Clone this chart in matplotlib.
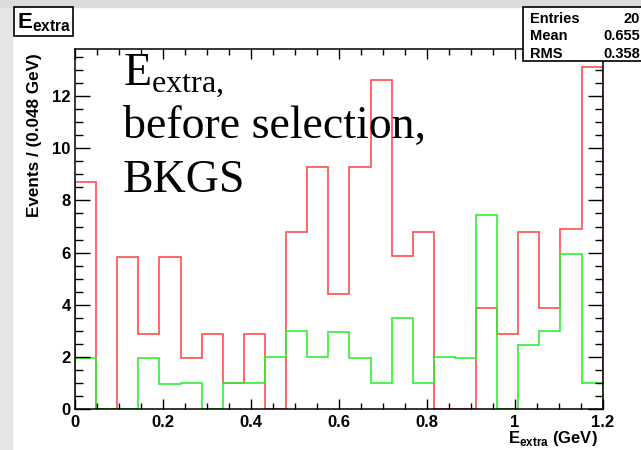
import numpy as np
import matplotlib.pyplot as plt
from matplotlib.patches import Rectangle
from matplotlib.ticker import MultipleLocator

plt.rcParams['font.family'] = ['Liberation Sans', 'DejaVu Sans']
plt.rcParams['mathtext.fontset'] = 'custom'
plt.rcParams['mathtext.rm'] = 'Liberation Serif'
plt.rcParams['mathtext.bf'] = 'Liberation Sans:bold'

# 25 bins of 0.048 GeV from 0 to 1.2
bin_edges = np.linspace(0, 1.2, 26)
red_counts = [8.72, 0, 5.85, 2.9, 5.82, 1.96, 2.9, 1.0, 2.9, 0,
              6.8, 9.27, 4.43, 9.27, 12.6, 5.86, 6.8, 0, 0, 3.88,
              2.9, 6.8, 3.88, 6.9, 13.1]
green_counts = [1.97, 0, 0, 1.98, 0.98, 1.0, 0, 1.0, 1.0, 2.0,
                3.0, 2.0, 2.96, 1.97, 0.99, 3.5, 1.0, 2.0, 1.97, 7.45,
                0, 2.47, 2.99, 5.96, 0.99]
stats_names = ["Entries", "Mean", "RMS"]
stats_values = ["20", "0.655", "0.358"]

W, H = 641, 450
fig = plt.figure(figsize=(W / 100, H / 100), dpi=100)

def fx(px):
    return px / W

def fy(py):
    return 1 - py / H

# grey slide frame on the left and top
fig.patches.append(Rectangle((0, 0), fx(12), 1, transform=fig.transFigure,
                             color='#e6e6e6', zorder=0))
fig.patches.append(Rectangle((0, fy(7)), 1, 7 / H, transform=fig.transFigure,
                             color='#dcdcdc', zorder=0))

left, right, top, bottom = 75, 602.7, 49, 409.3
ax = fig.add_axes([fx(left), fy(bottom), fx(right - left), (bottom - top) / H])

ax.stairs(red_counts, bin_edges, baseline=0, color='#ff4d4d', lw=1.2)
ax.stairs(green_counts, bin_edges, baseline=0, color='#33ee33', lw=1.2)

ax.set_xlim(0, 1.2)
ax.set_ylim(0, 13.8)
ax.xaxis.set_minor_locator(MultipleLocator(0.05))
ax.yaxis.set_major_locator(MultipleLocator(2))
ax.yaxis.set_minor_locator(MultipleLocator(0.5))
ax.set_xticks([0, 0.2, 0.4, 0.6, 0.8, 1.0, 1.2])
ax.set_xticklabels(["0", "0.2", "0.4", "0.6", "0.8", "1", "1.2"])
ax.tick_params(axis='x', which='major', direction='in', length=7, width=1,
               top=True, pad=4, labelsize=12)
ax.tick_params(axis='x', which='minor', direction='in', length=4, width=1, top=True)
ax.tick_params(axis='y', which='major', direction='in', length=11, width=1,
               right=True, pad=3, labelsize=12)
ax.tick_params(axis='y', which='minor', direction='in', length=6, width=1, right=True)
for lab in ax.get_xticklabels() + ax.get_yticklabels():
    lab.set_fontweight('bold')
for s in ax.spines.values():
    s.set_linewidth(1.1)

# big annotation text
fig.text(fx(123), fy(85), r'$\mathrm{E}_{\mathrm{extra},}$',
         fontsize=33, ha='left', va='baseline')
fig.text(fx(123), fy(138), 'before selection,', family='Liberation Serif',
         fontsize=33, ha='left', va='baseline')
fig.text(fx(123), fy(192), 'BKGS', family='Liberation Serif',
         fontsize=33, ha='left', va='baseline')

# axis titles
fig.text(fx(35), fy(53), 'Events / (0.048 GeV)', rotation=90, ha='center', va='top',
         fontsize=12.3, fontweight='bold')
fig.text(fx(598), fy(443), r'$\mathbf{E}_{\mathbf{extra}}$ (GeV)', ha='right',
         va='baseline', fontsize=12, fontweight='bold')

# title box
fig.patches.append(Rectangle((fx(14), fy(36)), fx(59), (36 - 7) / H,
                             transform=fig.transFigure, facecolor='white',
                             edgecolor='black', lw=1.2, zorder=5))
fig.text(fx(17), fy(28), r'$\mathbf{E}_{\mathbf{extra}}$', fontsize=16,
         ha='left', va='baseline', zorder=6)

# stats box
fig.patches.append(Rectangle((fx(523), fy(60.5)), fx(130), (60.5 - 7) / H,
                             transform=fig.transFigure, facecolor='white',
                             edgecolor='black', lw=1.2, zorder=5))
for i, (name, val) in enumerate(zip(stats_names, stats_values)):
    yb = 23 + i * 17.5
    fig.text(fx(530), fy(yb), name, fontsize=10.5, fontweight='bold',
             ha='left', va='baseline', zorder=6)
    fig.text(fx(640), fy(yb), val, fontsize=10.5, fontweight='bold',
             ha='right', va='baseline', zorder=6)

fig.savefig('out.png', dpi=100)
